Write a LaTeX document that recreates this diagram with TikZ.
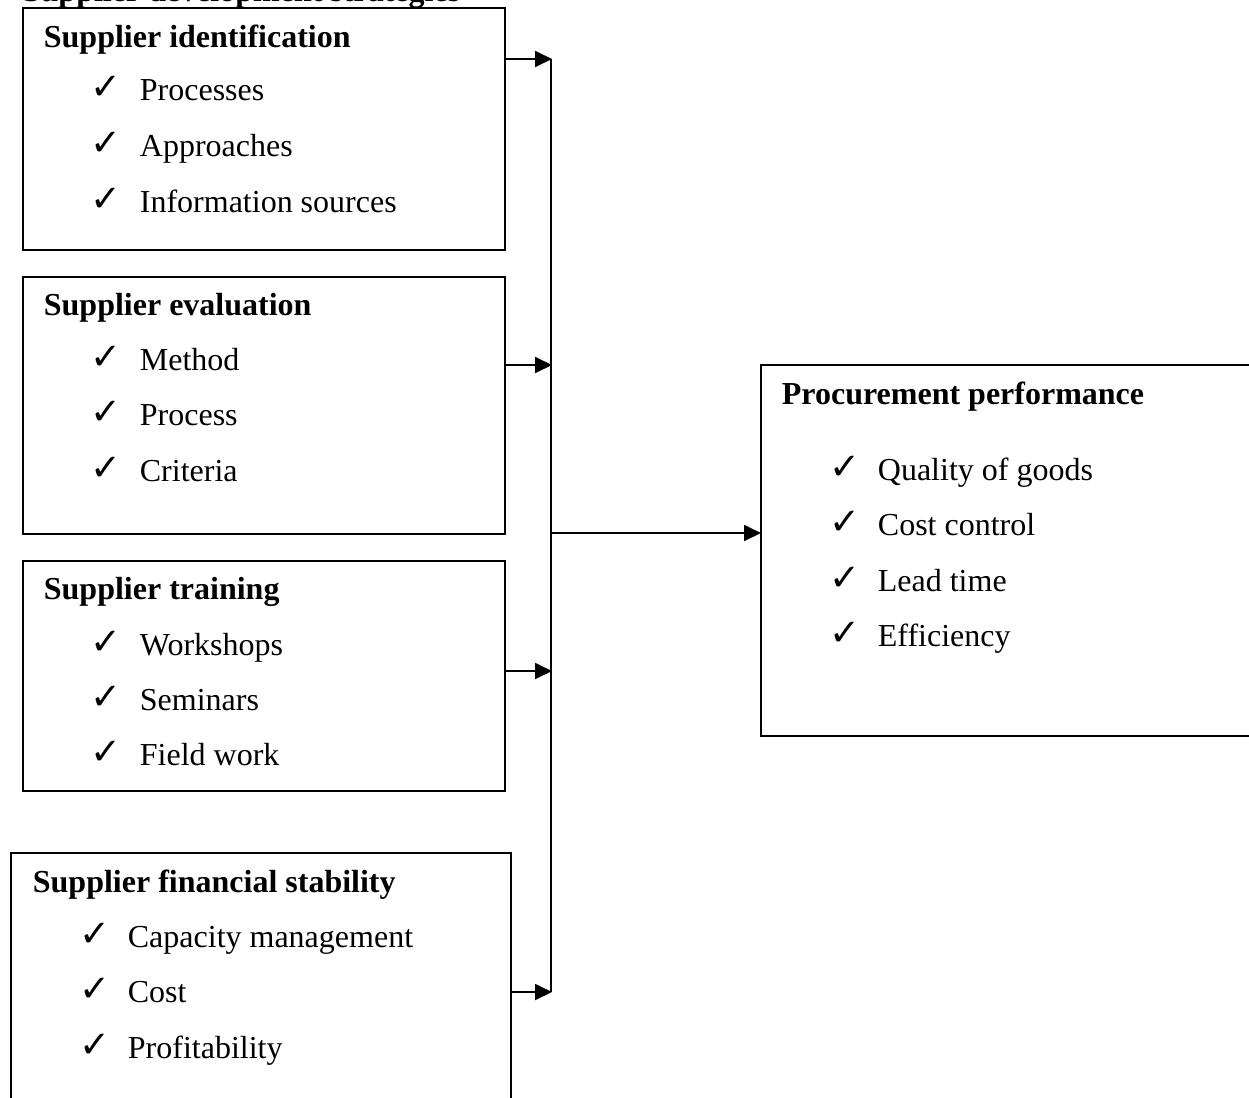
\documentclass[tikz,border=0pt]{standalone}
\usepackage{fontspec}
\setmainfont{Liberation Serif}
\newfontfamily\chkfont{DejaVu Sans}
\usetikzlibrary{arrows.meta,positioning}

\newcommand{\tick}{\raisebox{1pt}{\chkfont\fontsize{37}{40}\selectfont ✓}}

\begin{document}
\begin{tikzpicture}[x=1pt,y=-1pt,line width=1.8pt,
    panel/.style={draw=black,rectangle,anchor=north west,inner sep=0pt},
    head/.style={anchor=base west,inner sep=0pt,font=\fontsize{32}{38}\selectfont\bfseries},
    item/.style={anchor=base west,inner sep=0pt,font=\fontsize{32}{38}\selectfont},
    flow/.style={-{Triangle[length=17pt,width=16pt]},shorten >=-1pt}]
  \useasboundingbox (0,0) rectangle (1249,1097);

  %--- title (cut off at the top) ---
  \node[head] (title) at (22,2) {Supplier development strategies};

  %--- strategy boxes ---
  \node[panel, minimum width=482, minimum height=242] (ident) at (22,7) {};
  \node[panel, minimum width=482, minimum height=257] (eval)  at (22,276) {};
  \node[panel, minimum width=482, minimum height=230] (train) at (22,560) {};
  \node[panel, minimum width=500, minimum height=260] (fin)   at (10,852) {};
  \node[panel, minimum width=500, minimum height=371] (perf)  at (760,364) {};

  %--- headings ---
  \node[head] (identH) at (43,47.5) {Supplier identification};
  \node[head] (evalH)  at (43,315)  {Supplier evaluation};
  \node[head] (trainH) at (43,599)  {Supplier training};
  \node[head] (finH)   at (32,892)  {Supplier financial stability};
  \node[head] (perfH)  at (781,404) {Procurement performance};

  %--- check lists ---
  \foreach \t [count=\i] in {Processes, Approaches, Information sources}
    \node[item] (ident-\i) at (90,101+55.5*\i-55.5) {\makebox[49pt][l]{\tick}\t};
  \foreach \t [count=\i] in {Method, Process, Criteria}
    \node[item] (eval-\i) at (90,370+55.5*\i-55.5) {\makebox[49pt][l]{\tick}\t};
  \foreach \t [count=\i] in {Workshops, Seminars, Field work}
    \node[item] (train-\i) at (90,655+55*\i-55) {\makebox[49pt][l]{\tick}\t};
  \foreach \t [count=\i] in {Capacity management, Cost, Profitability}
    \node[item] (fin-\i) at (79,947+55.5*\i-55.5) {\makebox[48pt][l]{\tick}\t};
  \foreach \t [count=\i] in {Quality of goods, Cost control, Lead time, Efficiency}
    \node[item] (perf-\i) at (829,480+55.5*\i-55.5) {\makebox[48pt][l]{\tick}\t};

  %--- bus line ---
  \coordinate (j1) at (551,59);
  \coordinate (j2) at (551,365);
  \coordinate (j3) at (551,671);
  \coordinate (j4) at (551,992);
  \coordinate (jm) at (551,533);
  \draw (j1) -- (j4);

  %--- arrows ---
  \draw[flow] (ident.east |- j1) -- (j1);
  \draw[flow] (eval.east |- j2) -- (j2);
  \draw[flow] (train.east |- j3) -- (j3);
  \draw[flow] (fin.east |- j4) -- (j4);
  \draw[flow] (jm) -- (perf.west |- jm);
\end{tikzpicture}
\end{document}
